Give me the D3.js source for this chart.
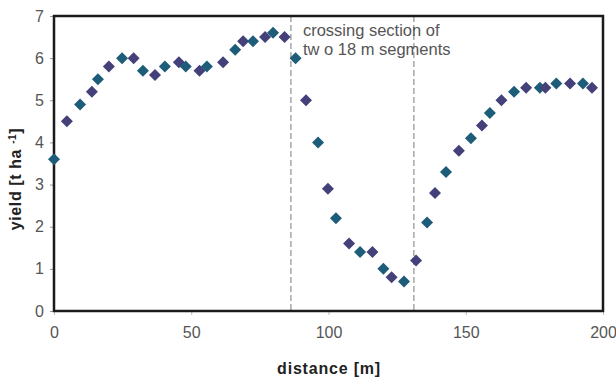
<!DOCTYPE html>
<html><head><meta charset="utf-8">
<script src="https://cdn.jsdelivr.net/npm/d3@7"></script>
<style>body{margin:0;background:#fff}svg{display:block}</style>
</head><body>
<svg id="c" width="616" height="379"></svg>
<script>
const distance = [0,4.7,9.5,13.8,16,20,24.8,29,32.4,36.8,40.4,45.5,48,53,55.7,61.6,66,68.9,72.5,76.9,79.8,84,88,91.8,96.2,99.8,102.7,107.5,111.5,116,120,123,127.5,131.9,135.9,138.8,142.8,147.5,151.9,155.9,158.8,163,167.6,172,177,179,183,188,192.7,196];
const yieldVals = [3.6,4.5,4.9,5.2,5.5,5.8,6.0,6.0,5.7,5.6,5.8,5.9,5.8,5.7,5.8,5.9,6.2,6.4,6.4,6.5,6.6,6.5,6.0,5.0,4.0,2.9,2.2,1.6,1.4,1.4,1.0,0.8,0.7,1.2,2.1,2.8,3.3,3.8,4.1,4.4,4.7,5.0,5.2,5.3,5.3,5.3,5.4,5.4,5.4,5.3];
const xTicks = [0,50,100,150,200];
const yTicks = [0,1,2,3,4,5,6,7];
const sectionBounds = [86.3,131.1];
const noteLines = ["crossing section of","tw o 18 m segments"];

const svg = d3.select("#c");
const m = {l:54, r:13, t:16, b:68};
const W = 616, H = 379;
const x = d3.scaleLinear().domain([0,200]).range([m.l, W-m.r]);
const y = d3.scaleLinear().domain([0,7]).range([H-m.b, m.t]);
const font = "Liberation Sans, Arial, sans-serif";

const ya = svg.append("g").attr("transform",`translate(${m.l},0)`)
  .call(d3.axisLeft(y).tickValues(yTicks).tickSize(4).tickPadding(6).tickFormat(d3.format("d")));
ya.select(".domain").remove();
ya.selectAll("line").attr("stroke","#999");
ya.selectAll("text").attr("font-family",font).attr("font-size",16).attr("fill","#555");

const xa = svg.append("g").attr("transform",`translate(0,${H-m.b})`)
  .call(d3.axisBottom(x).tickValues(xTicks).tickSize(4).tickPadding(12).tickFormat(d3.format("d")));
xa.select(".domain").remove();
xa.selectAll("line").attr("stroke","#bbb");
xa.selectAll("text").attr("font-family",font).attr("font-size",16).attr("fill","#555");

svg.selectAll(".sec").data(sectionBounds).enter().append("line")
  .attr("x1",d=>x(d)).attr("x2",d=>x(d)).attr("y1",y(7)).attr("y2",y(0))
  .attr("stroke","#999").attr("stroke-width",1.3).attr("stroke-dasharray","6,3");

svg.append("text").attr("font-family",font).attr("font-size",16.5).attr("fill","#555")
  .selectAll("tspan").data(noteLines).enter().append("tspan")
  .attr("x",x(86.3)+12).attr("y",(d,i)=>36+i*19).text(d=>d);

svg.append("rect").attr("x",x(0)).attr("y",y(7)).attr("width",x(200)-x(0)).attr("height",y(0)-y(7))
  .attr("fill","none").attr("stroke","#1a1a1a").attr("stroke-width",2.5);

const sym = d3.symbol().type(d3.symbolSquare).size(72);
svg.selectAll(".pt").data(distance.map((d,i)=>[d,yieldVals[i]])).enter().append("path")
  .attr("d",sym).attr("transform",d=>`translate(${x(d[0])},${y(d[1])}) rotate(45)`)
  .attr("fill",(d,i)=> i%2? "#43407a" : "#1d5d7a");

svg.append("text").attr("x",329).attr("y",374).attr("text-anchor","middle")
  .attr("font-family",font).attr("font-size",16).attr("font-weight","bold")
  .attr("fill","#222").attr("letter-spacing","0.8").text("distance [m]");
const yt = svg.append("text").attr("transform",`translate(21,179) rotate(-90)`).attr("text-anchor","middle")
  .attr("font-family",font).attr("font-size",16).attr("font-weight","bold").attr("fill","#222").attr("letter-spacing","0.6");
yt.append("tspan").text("yield [t ha ");
yt.append("tspan").attr("dy",-5).attr("font-size",10).text("-1");
yt.append("tspan").attr("dy",5).text("]");
</script>
</body></html>
